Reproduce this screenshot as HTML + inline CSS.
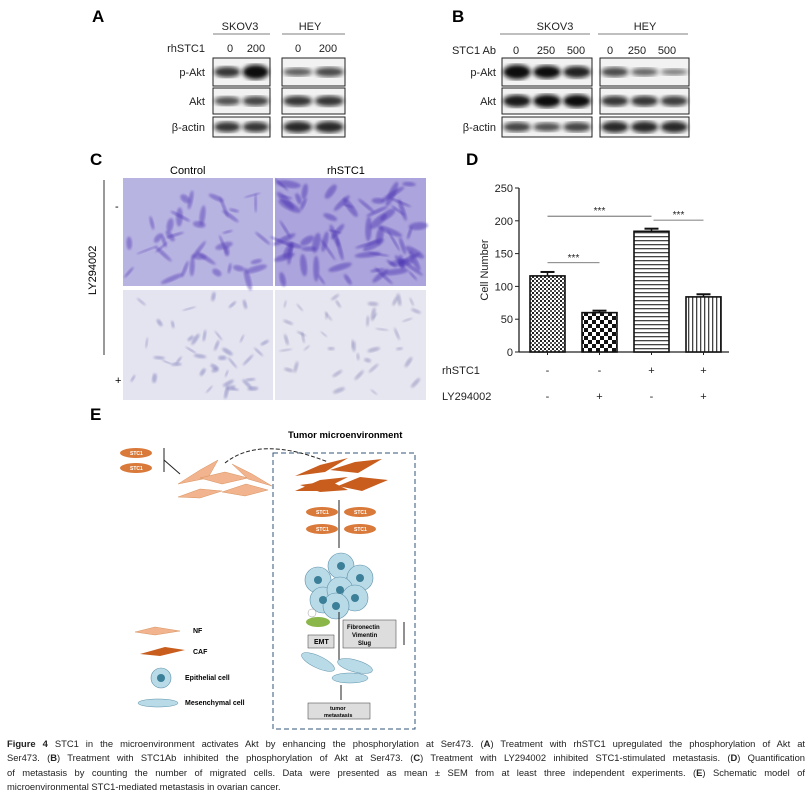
<!DOCTYPE html>
<html><head><meta charset="utf-8"><style>
body{margin:0;background:#fff;width:812px;height:810px;overflow:hidden;position:relative;font-family:"Liberation Sans",sans-serif}
.cap{position:absolute;left:7px;width:798px;font-size:9.4px;line-height:14.3px;color:#222;top:737px;font-family:"Liberation Sans",sans-serif}
.cap div{text-align:justify;text-align-last:justify;white-space:nowrap}
.cap div.last{text-align-last:left}
</style></head><body>
<svg width="812" height="730" style="position:absolute;left:0;top:0" font-family="Liberation Sans, sans-serif">
<defs>
<filter id="bl"><feGaussianBlur stdDeviation="2"/></filter>
<filter id="bl1"><feGaussianBlur stdDeviation="1"/></filter>
<pattern id="p1" width="4" height="4" patternUnits="userSpaceOnUse"><rect width="4" height="4" fill="#fff"/><rect width="2" height="2" fill="#222"/><rect x="2" y="2" width="2" height="2" fill="#555"/></pattern>
<pattern id="p2" width="8" height="8" patternUnits="userSpaceOnUse"><rect width="8" height="8" fill="#fff"/><rect width="4" height="4" fill="#111"/><rect x="4" y="4" width="4" height="4" fill="#111"/></pattern>
<pattern id="p3" width="4" height="4" patternUnits="userSpaceOnUse"><rect width="4" height="4" fill="#fff"/><rect width="4" height="1.3" fill="#444"/></pattern>
<pattern id="p4" width="4" height="4" patternUnits="userSpaceOnUse"><rect width="4" height="4" fill="#fff"/><rect width="1.3" height="4" fill="#444"/></pattern>
</defs>
<g font-weight="bold" font-size="17">
<text x="92" y="22">A</text>
<text x="452" y="22">B</text>
<text x="90" y="165">C</text>
<text x="466" y="165">D</text>
<text x="90" y="420">E</text>
</g>
<g id="blots" font-size="11" fill="#222"></g>
<g>
<text x="170" y="174" font-size="11">Control</text>
<text x="327" y="174" font-size="11">rhSTC1</text>
<rect x="123" y="178" width="150" height="108" fill="#b8b4e2"/>
<rect x="275" y="178" width="151" height="108" fill="#aca4dc"/>
<rect x="123" y="290" width="150" height="110" fill="#e4e4f0"/>
<rect x="275" y="290" width="151" height="110" fill="#e6e6f0"/>
<g id="cells"></g>
<line x1="104" y1="180" x2="104" y2="355" stroke="#333"/>
<text x="115" y="210" font-size="11">-</text>
<text x="115" y="384" font-size="11">+</text>
<text transform="translate(96,295) rotate(-90)" font-size="11">LY294002</text>
</g>
<g id="chart" font-size="11" fill="#222"></g>
<g font-size="7" font-weight="bold">
<text x="288" y="438" font-size="9.5">Tumor microenvironment</text>
<rect x="273" y="453" width="142" height="276" fill="none" stroke="#33557a" stroke-dasharray="5,3"/>
<g fill="#d9793a"><ellipse cx="136" cy="453" rx="16" ry="5"/><ellipse cx="136" cy="468" rx="16" ry="5"/></g>
<text x="130" y="455" font-size="5" fill="#fff">STC1</text><text x="130" y="470" font-size="5" fill="#fff">STC1</text>
<line x1="164" y1="448" x2="164" y2="472" stroke="#222"/><line x1="164" y1="460" x2="180" y2="474" stroke="#222"/>
<g fill="#f1b48e" stroke="#d9935f" stroke-width=".5">
<polygon points="178,484 200,470 218,460 208,478"/><polygon points="200,478 225,472 248,478 222,484"/><polygon points="232,464 252,474 272,486 248,479"/>
<polygon points="178,497 200,489 222,491 200,498"/><polygon points="222,492 246,484 268,490 245,496"/></g>
<path d="M225,463 Q260,435 328,462" fill="none" stroke="#222" stroke-dasharray="4,2"/>
<g fill="#c85d1e"><polygon points="295,476 320,465 348,458 325,472"/><polygon points="330,470 355,462 382,459 358,473"/><polygon points="295,491 320,480 348,477 320,491"/><polygon points="338,486 360,477 388,480 362,491"/><polygon points="300,485 330,481 348,490 320,492"/></g>
<g fill="#d9793a"><ellipse cx="322" cy="512" rx="16" ry="5"/><ellipse cx="360" cy="512" rx="16" ry="5"/><ellipse cx="322" cy="529" rx="16" ry="5"/><ellipse cx="360" cy="529" rx="16" ry="5"/></g>
<g font-size="5" fill="#fff"><text x="316" y="514">STC1</text><text x="354" y="514">STC1</text><text x="316" y="531">STC1</text><text x="354" y="531">STC1</text></g>
<line x1="339" y1="500" x2="339" y2="548" stroke="#222"/>
<g fill="#b9dbe8" stroke="#5a8fa8" stroke-width=".6">
<circle cx="318" cy="580" r="13"/><circle cx="341" cy="566" r="13"/><circle cx="360" cy="578" r="13"/><circle cx="323" cy="600" r="13"/><circle cx="340" cy="590" r="13"/><circle cx="355" cy="598" r="13"/><circle cx="336" cy="606" r="13"/></g>
<g fill="#3b7f98"><circle cx="318" cy="580" r="4"/><circle cx="341" cy="566" r="4"/><circle cx="360" cy="578" r="4"/><circle cx="323" cy="600" r="4"/><circle cx="340" cy="590" r="4"/><circle cx="355" cy="598" r="4"/><circle cx="336" cy="606" r="4"/></g>
<line x1="339" y1="612" x2="339" y2="660" stroke="#222"/>
<ellipse cx="318" cy="622" rx="12" ry="5" fill="#8ab64a"/><circle cx="312" cy="613" r="4" fill="#fff" stroke="#999" stroke-width=".5"/>
<rect x="308" y="635" width="26" height="13" fill="#ddd" stroke="#555" stroke-width=".6"/><text x="314" y="644">EMT</text>
<rect x="343" y="620" width="53" height="28" fill="#ddd" stroke="#555" stroke-width=".6"/>
<text x="347" y="629" font-size="6">Fibronectin</text><text x="352" y="637" font-size="6">Vimentin</text><text x="358" y="645" font-size="6">Slug</text>
<line x1="404" y1="645" x2="404" y2="622" stroke="#222"/>
<g fill="#b9dbe8" stroke="#5a8fa8" stroke-width=".5"><ellipse cx="318" cy="662" rx="18" ry="6" transform="rotate(25 318 662)"/><ellipse cx="355" cy="666" rx="18" ry="6" transform="rotate(15 355 666)"/><ellipse cx="350" cy="678" rx="18" ry="5"/></g>
<line x1="341" y1="685" x2="341" y2="700" stroke="#222"/>
<rect x="308" y="703" width="62" height="16" fill="#ddd" stroke="#555" stroke-width=".6"/><text x="330" y="710" font-size="5.5">tumor</text><text x="324" y="717" font-size="5.5">metastasis</text>
<polygon points="135,632 155,627 180,631 155,635" fill="#f1b48e" stroke="#d9935f" stroke-width=".5"/><text x="193" y="633">NF</text>
<polygon points="140,654 165,647 185,650 160,656" fill="#c85d1e"/><text x="193" y="654">CAF</text>
<circle cx="161" cy="678" r="10" fill="#b9dbe8" stroke="#5a8fa8" stroke-width=".6"/><circle cx="161" cy="678" r="4" fill="#3b7f98"/><text x="185" y="680">Epithelial cell</text>
<ellipse cx="158" cy="703" rx="20" ry="4" fill="#b9dbe8" stroke="#5a8fa8" stroke-width=".5"/><text x="185" y="705">Mesenchymal cell</text>
</g>
</svg>
<div class="cap">
<div><b>Figure 4</b> STC1 in the microenvironment activates Akt by enhancing the phosphorylation at Ser473. (<b>A</b>) Treatment with rhSTC1 upregulated the phosphorylation of Akt at</div>
<div>Ser473. (<b>B</b>) Treatment with STC1Ab inhibited the phosphorylation of Akt at Ser473. (<b>C</b>) Treatment with LY294002 inhibited STC1-stimulated metastasis. (<b>D</b>) Quantification</div>
<div>of metastasis by counting the number of migrated cells. Data were presented as mean ± SEM from at least three independent experiments. (<b>E</b>) Schematic model of</div>
<div class="last">microenvironmental STC1-mediated metastasis in ovarian cancer.</div>
</div>
<script>
const NS="http://www.w3.org/2000/svg";
function mk(p,t,a){const e=document.createElementNS(NS,t);for(const k in a)e.setAttribute(k,a[k]);p.appendChild(e);return e;}
// Chart data
const categories=["ctrl","ly","rh","rh-ly"];
const values=[116,60,184,84];
const errors=[6,3,4,4];
const patterns=["p1","p2","p3","p4"];
const yTicks=[0,50,100,150,200,250];
const rhRow=["-","-","+","+"];
const lyRow=["-","+","-","+"];
const sigPairs=[[0,1],[0,2],[2,3]];
const sigLevels=[136,207,201];
const g=document.getElementById('chart');
const y0=352,y1=188,xAx=519;
const ys=v=>y0-(v/250)*(y0-y1);
const xs=i=>530+i*52;
const bw=35;
mk(g,'line',{x1:xAx,y1:y0,x2:xAx,y2:y1,stroke:'#222','stroke-width':1.3});
mk(g,'line',{x1:xAx,y1:y0,x2:729,y2:y0,stroke:'#222','stroke-width':1.3});
yTicks.forEach(t=>{mk(g,'line',{x1:xAx-4,y1:ys(t),x2:xAx,y2:ys(t),stroke:'#222'});
 const tx=mk(g,'text',{x:xAx-6,y:ys(t)+4,'text-anchor':'end'});tx.textContent=t;
 
 });
const yl=mk(g,'text',{transform:`translate(488,270) rotate(-90)`,'text-anchor':'middle'});yl.textContent='Cell Number';


values.forEach((v,i)=>{
 const x=xs(i);
 const r=mk(g,'rect',{x:x,y:ys(v),width:bw,height:y0-ys(v),fill:`url(#${patterns[i]})`,stroke:'#111','stroke-width':1.6});
 
 
 mk(g,'line',{x1:x+bw/2,y1:ys(v),x2:x+bw/2,y2:ys(v+errors[i]),stroke:'#111','stroke-width':1.5});
 mk(g,'line',{x1:x+bw/2-7,y1:ys(v+errors[i]),x2:x+bw/2+7,y2:ys(v+errors[i]),stroke:'#111','stroke-width':2});
 mk(g,'line',{x1:x+bw/2,y1:y0,x2:x+bw/2,y2:y0+3,stroke:'#222'});
 const a=mk(g,'text',{x:x+bw/2,y:374,'text-anchor':'middle'});a.textContent=rhRow[i];
 
 
 const b=mk(g,'text',{x:x+bw/2,y:400,'text-anchor':'middle'});b.textContent=lyRow[i];
 
 
});
const t1=mk(g,'text',{x:442,y:374});t1.textContent='rhSTC1';
const t2=mk(g,'text',{x:442,y:400});t2.textContent='LY294002';
sigPairs.forEach(([a,b],k)=>{
 const yy=ys(sigLevels[k]);
 const xa=xs(a)+bw/2+(k==2?2:0), xb=xs(b)+bw/2;
 mk(g,'line',{x1:xa,y1:yy,x2:xb,y2:yy,stroke:'#555','stroke-width':.8});
 const s=mk(g,'text',{x:(xa+xb)/2,y:yy-2,'text-anchor':'middle','font-size':10});s.textContent='***';
 
 
});
// microscope texture (decorative, deterministic)
const cg=document.getElementById('cells');
let seed=7;const rnd=()=>{seed=(seed*16807)%2147483647;return seed/2147483647;};
[[123,178,150,108,'#5a42b8',40,2.0],[275,178,151,108,'#5038b4',70,2.4],[123,290,150,110,'#7a78b8',40,1.1],[275,290,151,110,'#8a88b8',40,1.0]].forEach(([x,y,w,h,c,n,s])=>{
 for(let i=0;i<n;i++){const cx=x+6+rnd()*(w-12),cy=y+6+rnd()*(h-12),rx=(3+rnd()*7)*s/2+2,ry=1+rnd()*2.5*s/2;
  mk(cg,'ellipse',{cx:cx,cy:cy,rx:rx,ry:ry,fill:c,opacity:.5,transform:`rotate(${rnd()*180} ${cx} ${cy})`,filter:'url(#bl1)'});}
});
// blots
const bg=document.getElementById('blots');
const rowsY=[[58,28],[88,26],[117,20]];
const rowNames=["p-Akt","Akt","β-actin"];
function blot(boxes,labelX,intens){
 boxes.forEach((bx,bi)=>{
  rowsY.forEach(([y,h],ri)=>{
   mk(bg,'rect',{x:bx[0],y:y,width:bx[1]-bx[0],height:h,fill:'#f2f2f2',stroke:'#222','stroke-width':1});
   const n=intens[bi][ri].length, w=(bx[1]-bx[0])/n;
   intens[bi][ri].forEach((k,li)=>{
    mk(bg,'ellipse',{cx:bx[0]+w*(li+.5),cy:y+h/2,rx:w*0.46,ry:2.5+k*4,fill:'#111',opacity:Math.min(1,0.4+k*0.6),filter:'url(#bl)'});
   });
  });
 });
 rowNames.forEach((n,ri)=>{const t=mk(bg,'text',{x:labelX,y:rowsY[ri][0]+rowsY[ri][1]/2+4,'text-anchor':'end'});t.textContent=n;});
}
blot([[213,270],[282,345]],205,[[[0.7,1.2],[0.5,0.6],[0.7,0.7]],[[0.4,0.55],[0.7,0.7],[0.8,0.8]]]);
blot([[502,592],[600,689]],496,[[[1.2,1.0,0.85],[0.9,1.0,1.0],[0.6,0.5,0.6]],[[0.55,0.35,0.18],[0.7,0.7,0.65],[0.8,0.8,0.8]]]);
[["SKOV3",240,213,270],["HEY",310,282,345],["SKOV3",555,500,590],["HEY",645,598,688]].forEach(([s,x,a,b])=>{
 const t=mk(bg,'text',{x:x,y:30,'text-anchor':'middle'});t.textContent=s;
 mk(bg,'line',{x1:a,y1:34,x2:b,y2:34,stroke:'#555','stroke-width':.8});});
[["rhSTC1",205,52],["STC1 Ab",496,54]].forEach(([s,x,y])=>{const t=mk(bg,'text',{x:x,y:y,'text-anchor':'end'});t.textContent=s;});
[["0",230],["200",256],["0",298],["200",328]].forEach(([s,x])=>{const t=mk(bg,'text',{x:x,y:52,'text-anchor':'middle'});t.textContent=s;});
[["0",516],["250",546],["500",576],["0",610],["250",637],["500",667]].forEach(([s,x])=>{const t=mk(bg,'text',{x:x,y:54,'text-anchor':'middle'});t.textContent=s;});
</script>
</body></html>
